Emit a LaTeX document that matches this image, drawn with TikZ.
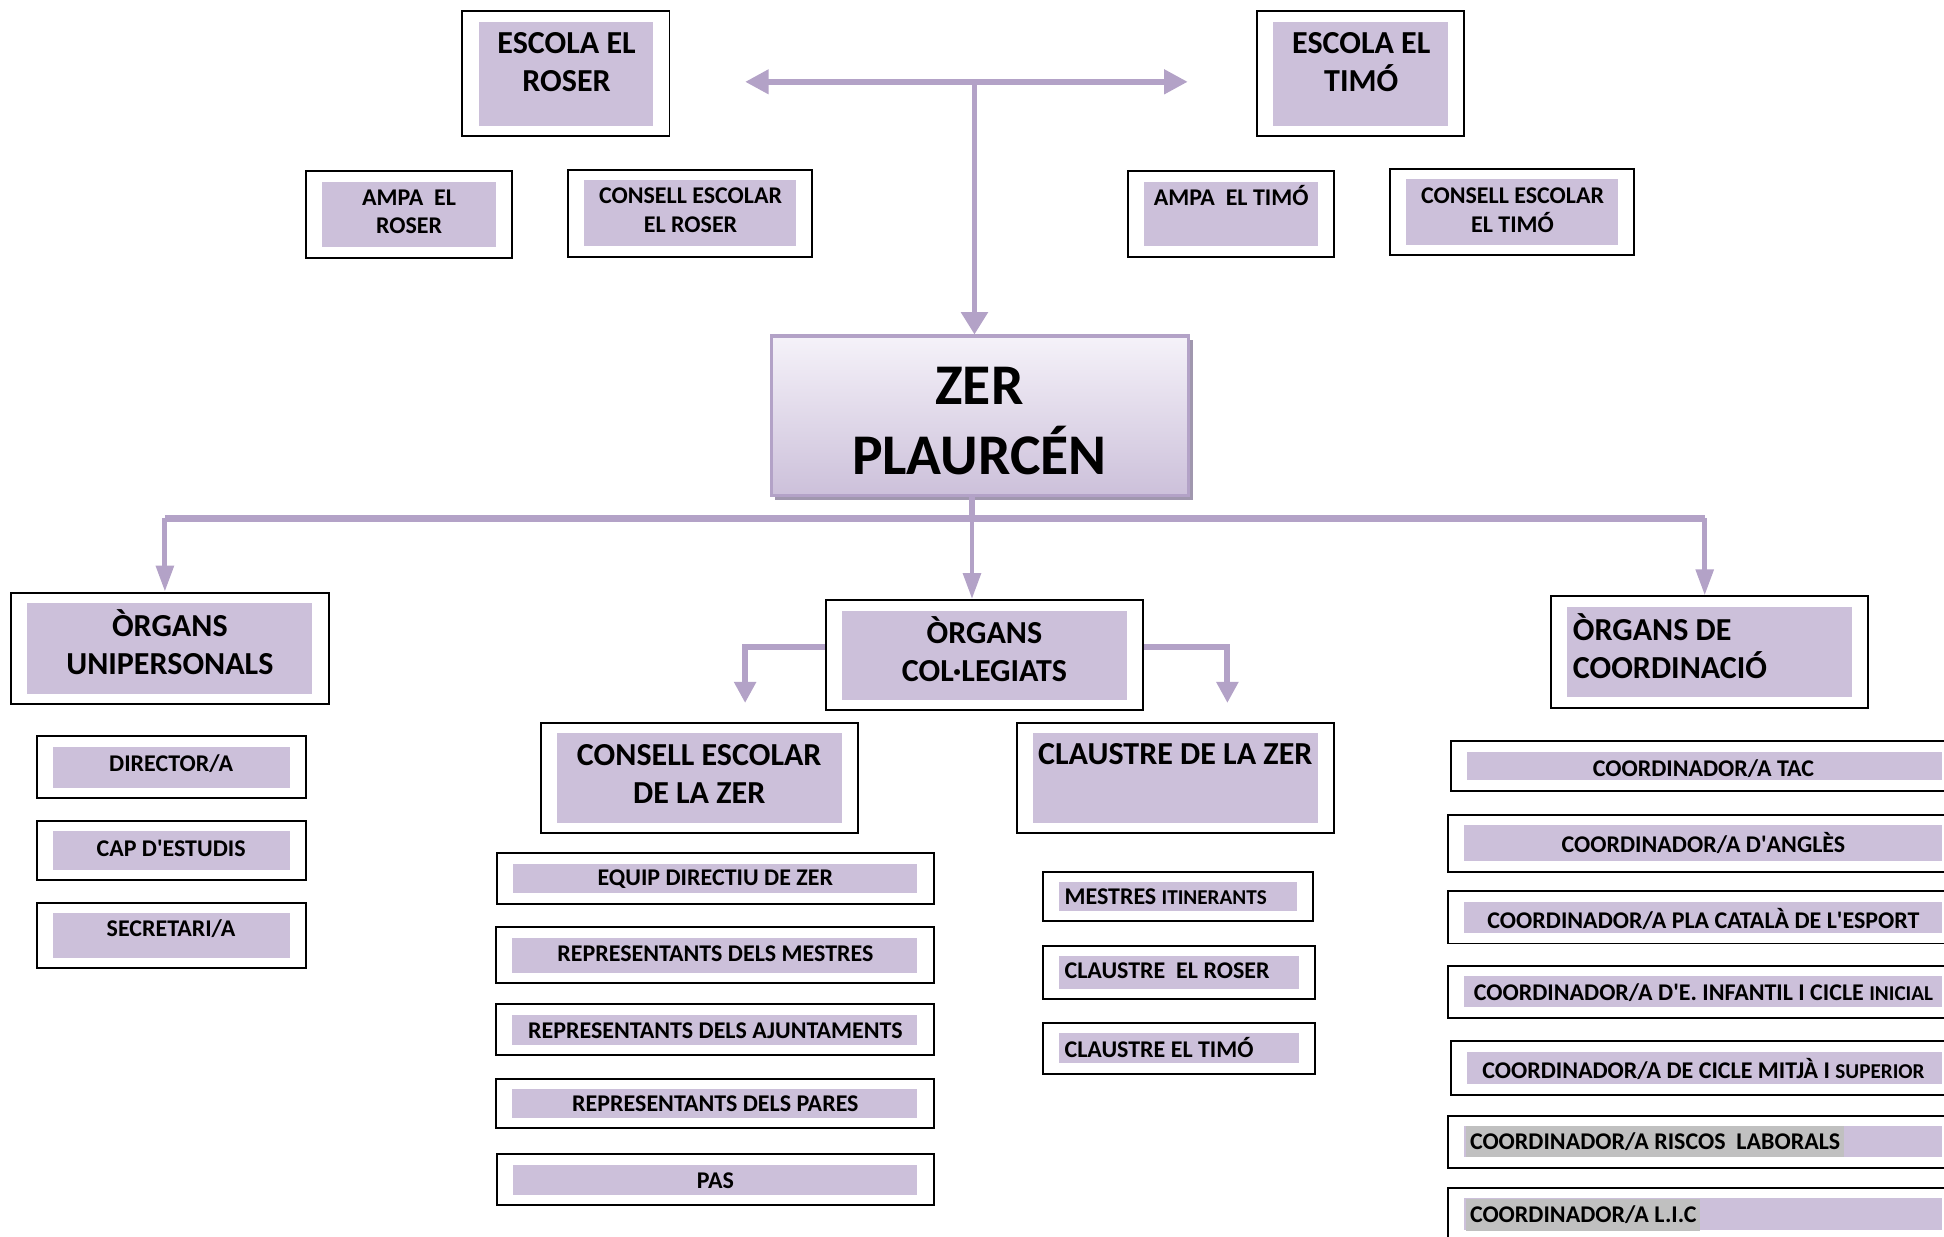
\documentclass[tikz,border=0pt]{standalone}
\usepackage{fontspec}
\setmainfont{Carlito}
\usetikzlibrary{arrows.meta,fit,shadows}

\definecolor{lavfill}{HTML}{CCC0DA}
\definecolor{lavline}{HTML}{B3A2C7}
\definecolor{zertop}{HTML}{F5F2F9}
\definecolor{zershadow}{HTML}{A097AE}
\definecolor{hlgrey}{HTML}{C0C0C0}

\begin{document}
\begin{tikzpicture}[x=0.01cm,y=-0.01cm,
    orgbox/.style={draw=black, line width=0.45pt, fill=white, inner sep=0pt,
      path picture={\fill[lavfill]
        ([shift={(13,8.5)}]path picture bounding box.north west) rectangle
        ([shift={(-13,-8.5)}]path picture bounding box.south east);}},
    zerbox/.style={draw=lavline, line width=0.7pt, top color=zertop,
      bottom color=lavfill, inner sep=0pt,
      drop shadow={shadow xshift=0.9pt, shadow yshift=-0.9pt, fill=zershadow, opacity=1}},
    bigtxt/.style={font=\bfseries\fontsize{13.2}{16.2}\selectfont, align=center, inner sep=0pt},
    midtxt/.style={font=\bfseries\fontsize{7.35}{8.7}\selectfont, align=center, inner sep=0pt},
    smalltxt/.style={font=\bfseries\fontsize{5.5}{6.5}\selectfont, align=center, inner sep=0pt},
    lefttxt/.style={align=left, anchor=west},
    hltxt/.style={smalltxt, anchor=west, fill=hlgrey, inner xsep=0.85pt,
      inner ysep=0pt, minimum height=0.25cm},
    toparrow/.style={draw=lavline, line width=1.3pt,
      arrows={Triangle[length=1.9mm,width=1.9mm]-Triangle[length=1.9mm,width=1.9mm]}},
    zerarrow/.style={draw=lavline, line width=1.2pt, -{Triangle[length=1.8mm,width=2.1mm]}},
    barline/.style={draw=lavline, line width=1.6pt},
    stemline/.style={draw=lavline, line width=1.2pt},
    downarrow/.style={draw=lavline, line width=1.1pt, -{Triangle[length=2.1mm,width=1.4mm]}},
    sidearrow/.style={draw=lavline, line width=1.4pt, -{Triangle[length=1.7mm,width=1.7mm]}}
  ]

  % page frame
    \useasboundingbox (0,0) rectangle (1568,997);
    \clip (0,0) rectangle (1568,997);

  % framed box with lavender inside
    \newcommand{\orgbox}[5]{%
      \node[orgbox, fit={(#2,#3) (#4,#5)}] (#1) {};
    }
  % text of a box
    \newcommand{\boxtext}[5]{%
      \node[#2] (#1) at (#3,#4) {#5};
    }
  % straight apostrophe
    \newcommand{\apos}{\textquotesingle}

  % Draw the schools and their bodies
    \orgbox{escR}{373}{9}{540}{110}
    \orgbox{escT}{1014}{9}{1181}{110}
    \orgbox{ampaR}{247}{138}{413}{208}
    \orgbox{cesR}{458}{137}{655}{207}
    \orgbox{ampaT}{910}{138}{1076}{207}
    \orgbox{cesT}{1121}{136}{1318}{206}

    \boxtext{escR-t}{midtxt}{457}{50}{ESCOLA EL\\ROSER}
    \boxtext{escT-t}{midtxt}{1098}{50}{ESCOLA EL\\TIMÓ}
    \boxtext{ampaR-t}{smalltxt}{330}{171}{AMPA~~EL\\ROSER}
    \boxtext{cesR-t}{smalltxt}{557}{169.5}{CONSELL ESCOLAR\\EL ROSER}
    \boxtext{ampaT-t}{smalltxt}{993}{158}{AMPA~~EL TIMÓ}
    \boxtext{cesT-t}{smalltxt}{1220}{169.5}{CONSELL ESCOLAR\\EL TIMÓ}

  % Draw the ZER
    \node[zerbox, fit={(622,271) (959,400)}] (zer) {};
    \boxtext{zer-t}{bigtxt}{790}{339.5}{ZER\\PLAURCÉN}

  % Draw the three kinds of bodies
    \orgbox{uni}{9}{478}{265}{568}
    \orgbox{col}{666}{484}{922}{573}
    \orgbox{coo}{1251}{481}{1507}{571}
    \boxtext{uni-t}{midtxt}{137}{518}{ÒRGANS\\UNIPERSONALS}
    \boxtext{col-t}{midtxt}{794}{523.5}{ÒRGANS\\COL·LEGIATS}
    \boxtext{coo-t}{midtxt,lefttxt}{1268}{521}{ÒRGANS DE\\COORDINACIÓ}

    \orgbox{cez}{436}{583}{692}{672}
    \orgbox{clz}{820}{583}{1076}{672}
    \boxtext{cez-t}{midtxt}{564}{624}{CONSELL ESCOLAR\\DE LA ZER}
    \boxtext{clz-t}{midtxt}{948}{608}{CLAUSTRE DE LA ZER}

  % Draw the one-person bodies
    \orgbox{dir}{30}{594}{247}{644}
    \orgbox{cap}{30}{662}{247}{710}
    \orgbox{sec}{30}{728}{247}{781}
    \boxtext{dir-t}{smalltxt}{138}{616}{DIRECTOR/A}
    \boxtext{cap-t}{smalltxt}{138}{684}{CAP D\apos ESTUDIS}
    \boxtext{sec-t}{smalltxt}{138}{749}{SECRETARI/A}

  % Draw the school council members
    \orgbox{eqd}{401}{688}{753}{729}
    \orgbox{rme}{400}{748}{753}{793}
    \orgbox{raj}{400}{810}{753}{851}
    \orgbox{rpa}{400}{870}{753}{910}
    \orgbox{pas}{401}{931}{753}{972}
    \boxtext{eqd-t}{smalltxt}{577}{709}{EQUIP DIRECTIU DE ZER}
    \boxtext{rme-t}{smalltxt}{577}{769}{REPRESENTANTS DELS MESTRES}
    \boxtext{raj-t}{smalltxt}{577}{831}{REPRESENTANTS DELS AJUNTAMENTS}
    \boxtext{rpa-t}{smalltxt}{577}{890}{REPRESENTANTS DELS PARES}
    \boxtext{pas-t}{smalltxt}{577}{952}{PAS}

  % Draw the staff meeting members
    \orgbox{mit}{841}{703}{1059}{743}
    \orgbox{clr}{841}{763}{1061}{806}
    \orgbox{clt}{841}{825}{1061}{866}
    \boxtext{mit-t}{smalltxt,lefttxt}{858}{723}{MESTRES {\fontsize{4.85}{5}\selectfont ITINERANTS}}
    \boxtext{clr-t}{smalltxt,lefttxt}{858}{783}{CLAUSTRE~~EL ROSER}
    \boxtext{clt-t}{smalltxt,lefttxt}{858}{845}{CLAUSTRE EL TIMÓ}

  % Draw the coordinators (cut at the right edge)
    \orgbox{tac}{1170}{598}{1579}{638}
    \orgbox{ang}{1168}{657}{1579}{703}
    \orgbox{esp}{1168}{719}{1579}{761}
    \orgbox{inf}{1168}{779}{1579}{821}
    \orgbox{mcs}{1170}{840}{1579}{883}
    \orgbox{ris}{1168}{900}{1579}{942}
    \orgbox{lic}{1168}{958}{1579}{1001}
    \boxtext{tac-t}{smalltxt}{1374}{620}{COORDINADOR/A TAC}
    \boxtext{ang-t}{smalltxt}{1374}{680}{COORDINADOR/A D\apos ANGLÈS}
    \boxtext{esp-t}{smalltxt}{1374}{741}{COORDINADOR/A PLA CATALÀ DE L\apos ESPORT}
    \boxtext{inf-t}{smalltxt}{1374}{801}{COORDINADOR/A D\apos E. INFANTIL I CICLE {\fontsize{4.85}{5}\selectfont INICIAL}}
    \boxtext{mcs-t}{smalltxt}{1374}{862}{COORDINADOR/A DE CICLE MITJÀ I {\fontsize{4.85}{5}\selectfont SUPERIOR}}
    \boxtext{ris-t}{hltxt}{1182}{921}{COORDINADOR/A RISCOS~~LABORALS}
    \boxtext{lic-t}{hltxt}{1182}{980}{COORDINADOR/A L.I.C}

  % Draw the double arrow and the arrow down to the ZER
    \coordinate (dblL) at (601,66);
    \coordinate (dblR) at (958,66);
    \coordinate (junc) at (786,66);
    \draw[toparrow] (dblL) -- (dblR);
    \draw[zerarrow] (junc) -- (junc |- zer.north);

  % Draw the trunk below the ZER
    \coordinate (trunk) at (784,418);
    \coordinate (trunkL) at (133,418);
    \coordinate (trunkR) at (1375,418);
    \draw[stemline] (zer.south -| trunk) -- (trunk);
    \draw[barline] (trunkL) -- (trunkR);
    \draw[downarrow] (trunkL) -- (trunkL |- uni.north);
    \draw[downarrow] (trunk) -- (trunk |- col.north);
    \draw[downarrow] (trunkR) -- (trunkR |- coo.north);

  % Draw the side arrows of the collegiate bodies
    \coordinate (sideLt) at (601,522);
    \coordinate (sideL) at (601,567);
    \coordinate (sideRt) at (990,522);
    \coordinate (sideR) at (990,567);
    \draw[sidearrow] (col.west |- sideLt) -- (sideLt) -- (sideL);
    \draw[sidearrow] (col.east |- sideRt) -- (sideRt) -- (sideR);

\end{tikzpicture}
\end{document}
